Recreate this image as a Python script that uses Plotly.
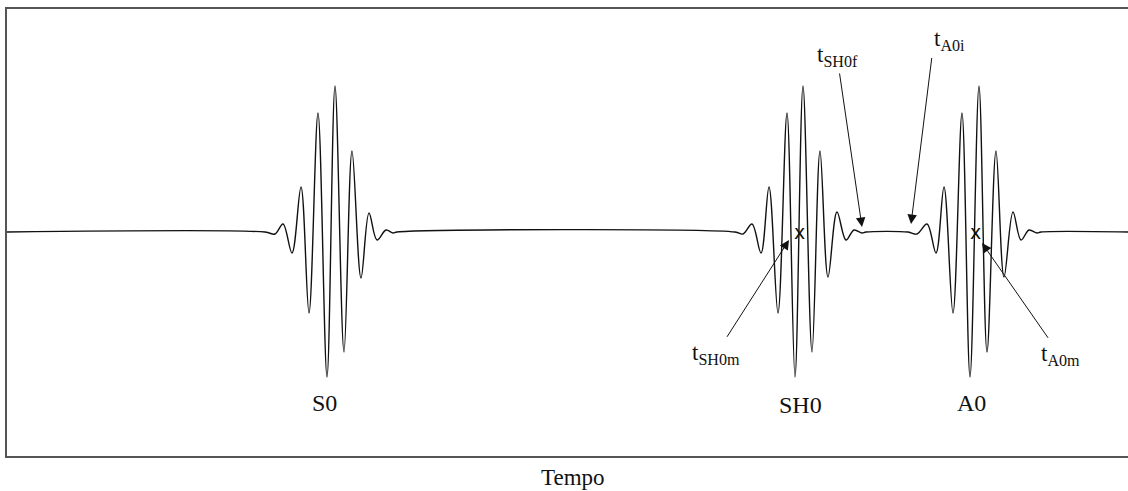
import plotly.graph_objects as go

# Time axis (arbitrary units) and amplitude (arbitrary units)
s0_t = [265, 275, 283, 292, 301, 309, 318, 327, 335, 344, 352, 361, 369, 377, 386, 393, 397]
s0_a = [0, -0.02, 0.08, -0.21, 0.45, -0.81, 1.19, -1.45, 1.46, -1.20, 0.81, -0.46, 0.19, -0.08, 0.02, -0.01, 0]

sh0_t = [735, 743, 752, 761, 769, 778, 787, 795, 803, 812, 820, 828, 837, 846, 854, 862, 866]
sh0_a = [0, -0.02, 0.08, -0.21, 0.45, -0.81, 1.19, -1.45, 1.46, -1.20, 0.81, -0.45, 0.20, -0.08, 0.02, -0.01, 0]

a0_t = [908, 917, 927, 936, 944, 953, 962, 970, 979, 987, 996, 1004, 1013, 1021, 1029, 1037, 1041]
a0_a = [0, -0.02, 0.08, -0.21, 0.45, -0.81, 1.19, -1.45, 1.46, -1.20, 0.81, -0.45, 0.20, -0.08, 0.02, -0.01, 0]

t_start, t_end = 7, 1128

mode_labels = ["S0", "SH0", "A0"]
mode_label_t = [324, 800, 971]
mode_label_a = [-1.71, -1.73, -1.71]

mark_t = [799, 975]

# arrow labels: text anchor (tail) and arrow tip
arrow_labels = ["t<sub>SH0m</sub>", "t<sub>SH0f</sub>", "t<sub>A0i</sub>", "t<sub>A0m</sub>"]
arrow_tail_t = [716, 837, 932, 1060]
arrow_tail_a = [-1.22, 1.76, 1.76, -1.23]
arrow_xanchor = ["center", "center", "left", "center"]
arrow_yanchor = ["middle", "middle", "bottom", "middle"]
arrow_tip_t = [789, 862, 911, 982]
arrow_tip_a = [-0.08, 0.05, 0.08, -0.11]

t_all = [t_start] + s0_t + sh0_t + a0_t + [t_end]
a_all = [0] + s0_a + sh0_a + a0_a + [0]

fig = go.Figure()
fig.add_trace(go.Scatter(
    x=t_all, y=a_all, mode="lines",
    line=dict(color="#111111", width=1.4, shape="spline", smoothing=1.0),
    hoverinfo="skip", showlegend=False,
))

serif = "Liberation Serif, Times New Roman, serif"
ann = []
for lab, tx, ay in zip(mode_labels, mode_label_t, mode_label_a):
    ann.append(dict(x=tx, y=ay, xref="x", yref="y", text=lab, showarrow=False,
                    font=dict(family=serif, size=24, color="#111111")))
for tx in mark_t:
    ann.append(dict(x=tx, y=0, xref="x", yref="y", text="x", showarrow=False,
                    font=dict(family="DejaVu Sans, Arial, sans-serif", size=19, color="#111111")))
for lab, x0, y0, xa, ya, x1, y1 in zip(arrow_labels, arrow_tail_t, arrow_tail_a,
                                       arrow_xanchor, arrow_yanchor, arrow_tip_t, arrow_tip_a):
    ann.append(dict(x=x1, y=y1, ax=x0, ay=y0, xref="x", yref="y", axref="x", ayref="y",
                    text=lab, xanchor=xa, yanchor=ya, showarrow=True, arrowhead=2,
                    arrowsize=1.9, arrowwidth=1, arrowcolor="#111111", startstandoff=2,
                    font=dict(family=serif, size=23, color="#111111")))
ann.append(dict(x=573, y=-0.049, xref="x", yref="paper", text="Tempo", showarrow=False,
                yanchor="middle", font=dict(family=serif, size=23, color="#111111")))

fig.update_layout(
    width=1128, height=491,
    margin=dict(l=7, r=0, t=9, b=35),
    paper_bgcolor="white", plot_bgcolor="white",
    annotations=ann,
    xaxis=dict(range=[t_start, t_end], showgrid=False, zeroline=False, showticklabels=False,
               ticks="", showline=True, linecolor="#555555", linewidth=2, mirror=True),
    yaxis=dict(range=[-2.24, 2.23], showgrid=False, zeroline=False, showticklabels=False,
               ticks="", showline=True, linecolor="#555555", linewidth=2, mirror=False),
)

fig.write_html("out.html")
